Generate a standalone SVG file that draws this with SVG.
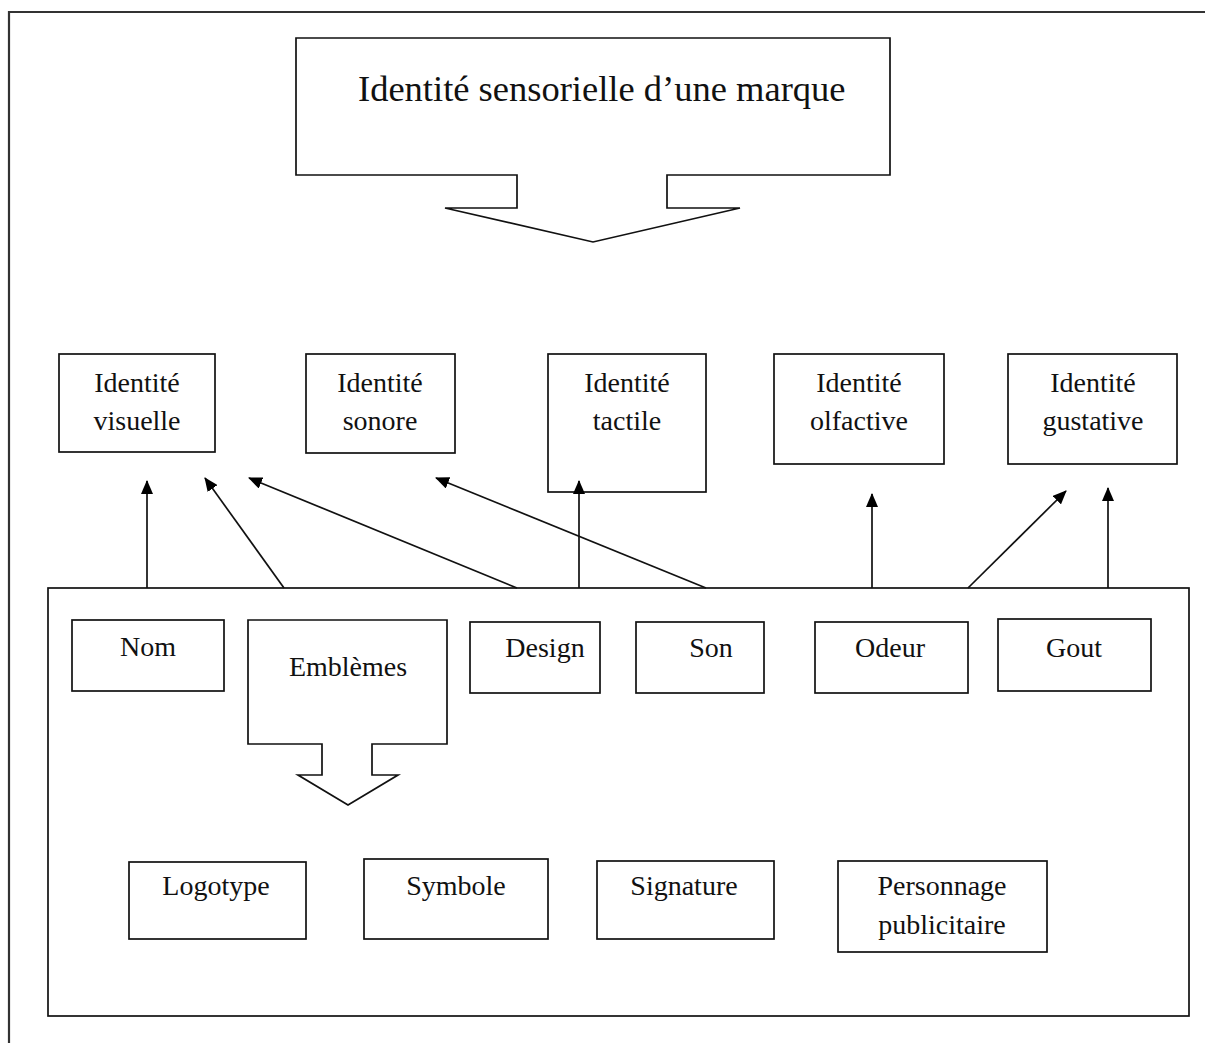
<svg xmlns="http://www.w3.org/2000/svg" width="1205" height="1043" viewBox="0 0 1205 1043">
  <defs>
    <marker id="head" viewBox="0 0 14 12" refX="13" refY="6" markerWidth="14" markerHeight="12" markerUnits="userSpaceOnUse" orient="auto">
      <path d="M0,0 L14,6 L0,12 Z" fill="#000"/>
    </marker>
    <style>
      .box { fill: #fff; stroke: #111; stroke-width: 1.7; }
      .frame { fill: none; stroke: #333; stroke-width: 2.2; }
      .lbl { font-family: "Liberation Serif", "Times New Roman", serif; font-size: 28px; fill: #111; text-anchor: middle; }
      .title { font-family: "Liberation Serif", "Times New Roman", serif; font-size: 36.5px; fill: #111; }
      .conn { stroke: #111; stroke-width: 1.7; fill: none; marker-end: url(#head); }
    </style>
  </defs>
  <rect width="1205" height="1043" fill="#fff"/>

  <!-- page border (only top and left edges fall inside the canvas) -->
  <path class="frame" d="M9,1043 V12 H1205"/>

  <!-- title callout with downward arrow -->
  <g id="title">
    <path class="box" d="M296,38 H890 V175 H667 V208 H740 L593,242 L445,208 H517 V175 H296 Z"/>
    <text class="title" x="358" y="101">Identité sensorielle d’une marque</text>
  </g>

  <!-- sensory identities -->
  <g id="visuelle">
    <rect class="box" x="59" y="354" width="156" height="98"/>
    <text class="lbl" x="137" y="392">Identité</text>
    <text class="lbl" x="137" y="430">visuelle</text>
  </g>
  <g id="sonore">
    <rect class="box" x="306" y="354" width="149" height="99"/>
    <text class="lbl" x="380" y="392">Identité</text>
    <text class="lbl" x="380" y="430">sonore</text>
  </g>
  <g id="tactile">
    <rect class="box" x="548" y="354" width="158" height="138"/>
    <text class="lbl" x="627" y="392">Identité</text>
    <text class="lbl" x="627" y="430">tactile</text>
  </g>
  <g id="olfactive">
    <rect class="box" x="774" y="354" width="170" height="110"/>
    <text class="lbl" x="859" y="392">Identité</text>
    <text class="lbl" x="859" y="430">olfactive</text>
  </g>
  <g id="gustative">
    <rect class="box" x="1008" y="354" width="169" height="110"/>
    <text class="lbl" x="1093" y="392">Identité</text>
    <text class="lbl" x="1093" y="430">gustative</text>
  </g>

  <!-- container of brand components -->
  <g id="components">
    <rect class="box" x="48" y="588" width="1141" height="428"/>
  </g>

  <g id="nom">
    <rect class="box" x="72" y="620" width="152" height="71"/>
    <text class="lbl" x="148" y="656">Nom</text>
  </g>
  <g id="emblemes">
    <path class="box" d="M248,620 H447 V744 H372 V775 H398 L348,805 L298,775 H322 V744 H248 Z"/>
    <text class="lbl" x="348" y="676">Emblèmes</text>
  </g>
  <g id="design">
    <rect class="box" x="470" y="622" width="130" height="71"/>
    <text class="lbl" x="545" y="657">Design</text>
  </g>
  <g id="son">
    <rect class="box" x="636" y="622" width="128" height="71"/>
    <text class="lbl" x="711" y="657">Son</text>
  </g>
  <g id="odeur">
    <rect class="box" x="815" y="622" width="153" height="71"/>
    <text class="lbl" x="890" y="657">Odeur</text>
  </g>
  <g id="gout">
    <rect class="box" x="998" y="619" width="153" height="72"/>
    <text class="lbl" x="1074" y="657">Gout</text>
  </g>

  <g id="logotype">
    <rect class="box" x="129" y="862" width="177" height="77"/>
    <text class="lbl" x="216" y="895">Logotype</text>
  </g>
  <g id="symbole">
    <rect class="box" x="364" y="859" width="184" height="80"/>
    <text class="lbl" x="456" y="895">Symbole</text>
  </g>
  <g id="signature">
    <rect class="box" x="597" y="861" width="177" height="78"/>
    <text class="lbl" x="684" y="895">Signature</text>
  </g>
  <g id="personnage">
    <rect class="box" x="838" y="861" width="209" height="91"/>
    <text class="lbl" x="942" y="895">Personnage</text>
    <text class="lbl" x="942" y="934">publicitaire</text>
  </g>

  <!-- connectors from the components up to each identity -->
  <g id="connectors">
    <line class="conn" x1="147" y1="588" x2="147" y2="481"/>
    <line class="conn" x1="284" y1="588" x2="205" y2="478"/>
    <line class="conn" x1="517" y1="588" x2="249" y2="478"/>
    <line class="conn" x1="579" y1="588" x2="579" y2="481"/>
    <line class="conn" x1="706" y1="588" x2="436" y2="478"/>
    <line class="conn" x1="872" y1="588" x2="872" y2="494"/>
    <line class="conn" x1="968" y1="588" x2="1066" y2="491"/>
    <line class="conn" x1="1108" y1="588" x2="1108" y2="488"/>
  </g>
</svg>
